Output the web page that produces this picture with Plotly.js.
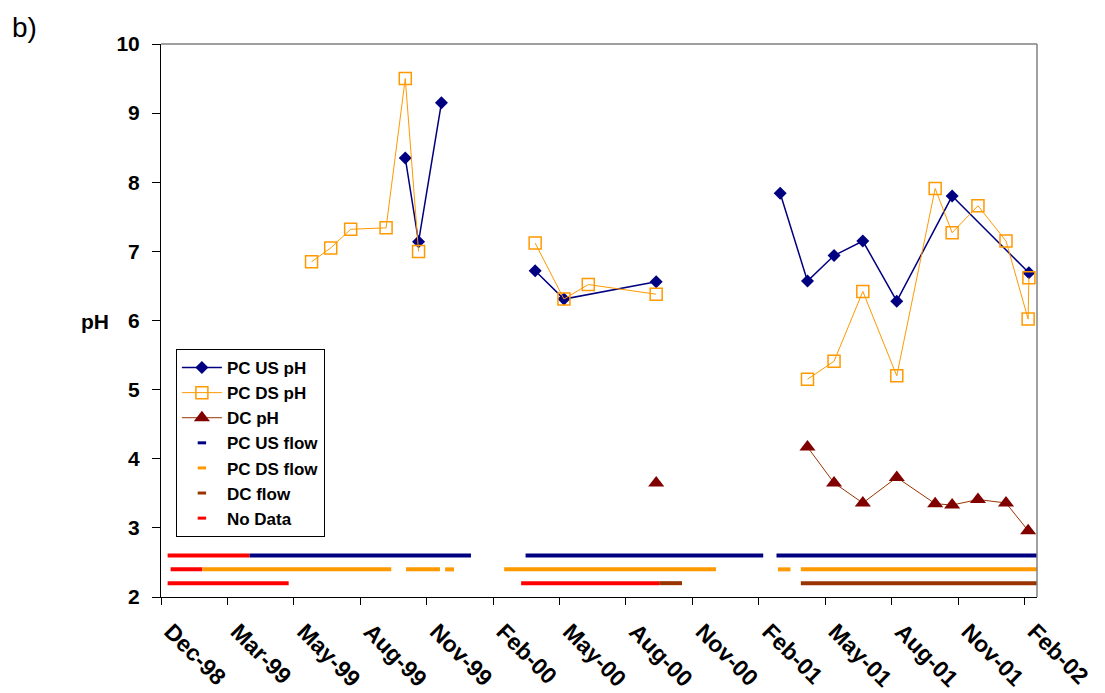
<!DOCTYPE html>
<html>
<head>
<meta charset="utf-8">
<script src="https://cdn.plot.ly/plotly-3.0.1.min.js"></script>
<style>html,body{margin:0;padding:0;background:#fff;}#chart{width:1105px;height:693px;}</style>
</head>
<body>
<div id="chart"></div>
<script>
// ---- pH series (null = gap in sampling) ----
const usDates = ['1999-10-28','1999-11-15','1999-12-16','2000-02-01','2000-04-21','2000-05-30','2000-10-02','2001-01-01','2001-03-19','2001-04-25','2001-05-31','2001-07-09','2001-08-24','2001-11-07','2002-02-19'];
const usPH    = [8.35, 7.14, 9.15, null, 6.72, 6.31, 6.56, null, 7.84, 6.57, 6.94, 7.15, 6.28, 7.80, 6.69];

const dsDates = ['1999-06-23','1999-07-19','1999-08-15','1999-10-02','1999-10-28','1999-11-15','2000-02-01','2000-04-21','2000-05-30','2000-07-02','2000-10-02','2001-01-01','2001-04-25','2001-05-31','2001-07-09','2001-08-24','2001-10-15','2001-11-07','2001-12-12','2002-01-19','2002-02-18','2002-02-19'];
const dsPH    = [6.85, 7.05, 7.32, 7.34, 9.50, 7.00, null, 7.12, 6.31, 6.52, 6.38, null, 5.15, 5.41, 6.42, 5.20, 7.91, 7.27, 7.66, 7.15, 6.02, 6.62];

const dcDates = ['2000-10-02','2001-01-01','2001-04-25','2001-05-31','2001-07-09','2001-08-24','2001-10-15','2001-11-07','2001-12-12','2002-01-19','2002-02-18'];
const dcPH    = [3.65, null, 4.17, 3.65, 3.36, 3.73, 3.35, 3.33, 3.41, 3.36, 2.96];

// ---- flow periods (start / end dates) ----
const US_FLOW_LEVEL = 2.6, DS_FLOW_LEVEL = 2.4, DC_FLOW_LEVEL = 2.2;
const usFlowStart = ['1999-03-31','2000-04-08','2001-03-14'];
const usFlowEnd   = ['2000-01-25','2001-02-24','2002-03-02'];
const dsFlowStart = ['1999-01-26','1999-10-29','1999-12-21','2000-03-10','2001-03-16','2001-04-16'];
const dsFlowEnd   = ['1999-10-09','1999-12-14','2000-01-02','2000-12-22','2001-04-02','2002-03-02'];
const dcFlowStart = ['2000-10-06','2001-04-16'];
const dcFlowEnd   = ['2000-11-06','2002-03-02'];
const noDataStart = ['1998-12-10','1998-12-14','1998-12-10','2000-04-02'];
const noDataEnd   = ['1999-03-31','1999-01-26','1999-05-23','2000-10-06'];
const noDataLevel = [US_FLOW_LEVEL, DS_FLOW_LEVEL, DC_FLOW_LEVEL, DC_FLOW_LEVEL];

// ---- axis ----
const xStart = '1998-12-01', xEnd = '2002-03-02';
const tickStepDays = 90;

function segs(starts, ends, levels) {
  const x = [], y = [];
  starts.forEach((s, i) => {
    const lv = Array.isArray(levels) ? levels[i] : levels;
    x.push(s, ends[i], null); y.push(lv, lv, null);
  });
  return {x, y};
}

const FONT = 'Arial, "Liberation Sans", sans-serif';
const NAVY = '#000080', ORANGE = '#FF9900', BROWN = '#993300', MAROON = '#800000', RED = '#FF0000';
const FLOW_W = 4;

const traces = [];
function flowTrace(d, color) {
  return {x: d.x, y: d.y, type: 'scatter', mode: 'lines', line: {color: color, width: FLOW_W},
          showlegend: false, hoverinfo: 'skip', connectgaps: false};
}
traces.push(flowTrace(segs(noDataStart, noDataEnd, noDataLevel), RED));
traces.push(flowTrace(segs(usFlowStart, usFlowEnd, US_FLOW_LEVEL), NAVY));
traces.push(flowTrace(segs(dsFlowStart, dsFlowEnd, DS_FLOW_LEVEL), ORANGE));
traces.push(flowTrace(segs(dcFlowStart, dcFlowEnd, DC_FLOW_LEVEL), BROWN));

traces.push({x: usDates, y: usPH, name: 'PC US pH', type: 'scatter', mode: 'lines+markers',
  line: {color: NAVY, width: 1.5}, marker: {symbol: 'diamond', size: 10, color: NAVY}, connectgaps: false});
traces.push({x: dsDates, y: dsPH, name: 'PC DS pH', type: 'scatter', mode: 'lines+markers',
  line: {color: ORANGE, width: 1}, marker: {symbol: 'square-open', size: 12, color: ORANGE, line: {color: ORANGE, width: 1.5}}, connectgaps: false});
traces.push({x: dcDates, y: dcPH, name: 'DC pH', type: 'scatter', mode: 'lines+markers',
  line: {color: BROWN, width: 1}, marker: {symbol: 'triangle-up', size: 14, color: MAROON}, connectgaps: false});

function legendDash(name, color) {
  return {x: [null], y: [null], name: name, type: 'scatter', mode: 'markers',
    marker: {symbol: 'line-ew', size: 6, color: color, line: {color: color, width: 3}}, hoverinfo: 'skip'};
}
traces.push(legendDash('PC US flow', NAVY));
traces.push(legendDash('PC DS flow', ORANGE));
traces.push(legendDash('DC flow', BROWN));
traces.push(legendDash('No Data', RED));

const layout = {
  width: 1105, height: 693,
  margin: {l: 161, r: 68, t: 44, b: 96, pad: 0},
  paper_bgcolor: '#fff', plot_bgcolor: '#fff',
  font: {family: FONT, color: '#000'},
  xaxis: {
    type: 'date', range: [xStart, xEnd], tick0: xStart, dtick: tickStepDays * 86400000,
    tickformat: '%b-%y', tickangle: 45, ticks: 'outside', ticklen: 7, tickcolor: '#000', tickwidth: 1,
    showline: true, linecolor: '#000', linewidth: 1, showgrid: false, zeroline: false,
    ticklabelstandoff: 4, ticklabelshift: 10,
    tickfont: {family: FONT, size: 23, weight: 'bold', color: '#000'}
  },
  yaxis: {
    range: [2, 10], tick0: 2, dtick: 1, ticks: 'outside', ticklen: 8, tickcolor: '#000', tickwidth: 1,
    showline: true, linecolor: '#000', linewidth: 1, showgrid: false, zeroline: false,
    ticklabelstandoff: 8,
    tickfont: {family: FONT, size: 21, weight: 'bold', color: '#000'}
  },
  legend: {
    x: 0.017, y: 0.4485, xanchor: 'left', yanchor: 'top',
    bgcolor: '#fff', bordercolor: '#000', borderwidth: 1,
    font: {family: FONT, size: 17, weight: 'bold', color: '#000'},
    traceorder: 'normal', tracegroupgap: 0, itemwidth: 40
  },
  shapes: [
    {type: 'line', xref: 'paper', yref: 'paper', x0: 0, x1: 1, y0: 1, y1: 1, line: {color: '#808080', width: 1.5}},
    {type: 'line', xref: 'paper', yref: 'paper', x0: 1, x1: 1, y0: 0, y1: 1, line: {color: '#808080', width: 1.5}}
  ],
  annotations: [
    {text: 'b)', xref: 'paper', yref: 'paper', x: -0.1724, y: 1.0307, xanchor: 'left', yanchor: 'middle',
     showarrow: false, font: {family: FONT, size: 28, color: '#000'}},
    {text: 'pH', xref: 'paper', yref: 'paper', x: -0.0753, y: 0.4973, xanchor: 'center', yanchor: 'middle',
     showarrow: false, font: {family: FONT, size: 21, weight: 'bold', color: '#000'}}
  ],
  showlegend: true
};

Plotly.newPlot('chart', traces, layout, {displayModeBar: false, staticPlot: true});
</script>
</body>
</html>
